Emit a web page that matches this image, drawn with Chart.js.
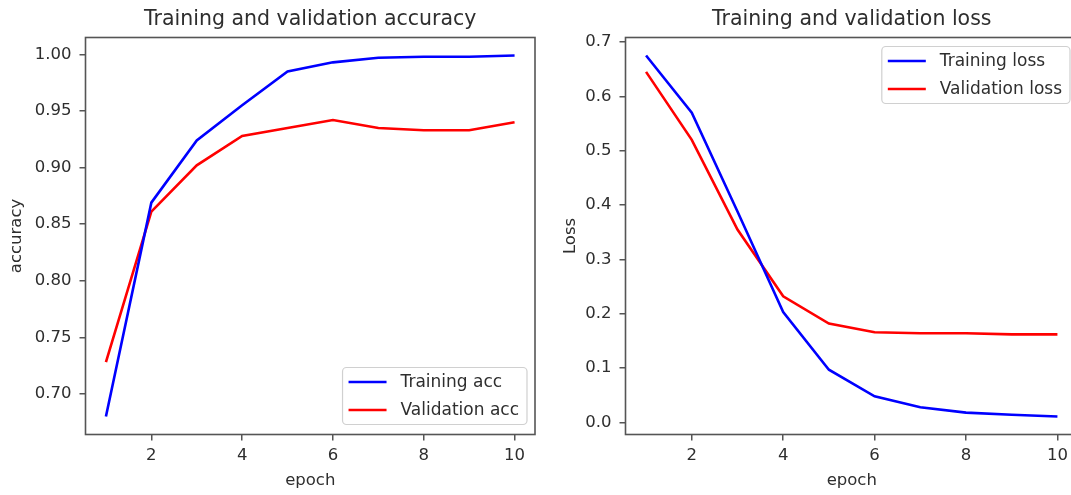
<!DOCTYPE html>
<html>
<head>
<meta charset="utf-8">
<script src="https://cdn.jsdelivr.net/npm/chart.js@4.4.1/dist/chart.umd.min.js"></script>
<style>
  html, body { margin: 0; padding: 0; background: #fff; overflow: hidden; }
  #wrap { position: relative; width: 1071px; height: 495px; overflow: hidden; }
  .pane { position: absolute; top: 0; height: 495px; }
</style>
</head>
<body>
<div id="wrap">
  <div class="pane" style="left:0;width:545px"><canvas id="accChart" width="545" height="495"></canvas></div>
  <div class="pane" style="left:545px;width:540px"><canvas id="lossChart" width="540" height="495"></canvas></div>
</div>
<script>
// Dados
const epochs = [1, 2, 3, 4, 5, 6, 7, 8, 9, 10];
const trainAcc = [0.680, 0.869, 0.924, 0.955, 0.985, 0.993, 0.997, 0.998, 0.998, 0.999];
const valAcc = [0.728, 0.861, 0.902, 0.928, 0.935, 0.942, 0.935, 0.933, 0.933, 0.940];
const trainLoss = [0.675, 0.570, 0.388, 0.203, 0.097, 0.048, 0.028, 0.018, 0.014, 0.011];
const valLoss = [0.645, 0.520, 0.355, 0.232, 0.182, 0.166, 0.164, 0.164, 0.162, 0.162];

const epochTicks = [2, 4, 6, 8, 10];
const accTicks = [0.70, 0.75, 0.80, 0.85, 0.90, 0.95, 1.00];
const lossTicks = [0.0, 0.1, 0.2, 0.3, 0.4, 0.5, 0.6, 0.7];

Chart.defaults.font.family = '"DejaVu Sans", sans-serif';
Chart.defaults.color = '#2e2e2e';

const TEXT = '#2e2e2e';
const SPINE = '#555';
const FS = 16.5;

// margem de 5% como no matplotlib
function limites(valores) {
  const lo = Math.min(...valores), hi = Math.max(...valores);
  const m = (hi - lo) * 0.05;
  return [lo - m, hi + m];
}

const pontos = (ys) => ys.map((y, i) => ({ x: epochs[i], y }));

// moldura em volta da área do gráfico
const moldura = {
  id: 'moldura',
  afterDatasetsDraw(chart) {
    const { ctx, chartArea: a } = chart;
    ctx.save();
    ctx.strokeStyle = SPINE;
    ctx.lineWidth = 1.6;
    ctx.strokeRect(a.left, a.top, a.right - a.left, a.bottom - a.top);
    ctx.restore();
  }
};

// legenda em caixa dentro do gráfico
const legendaCaixa = {
  id: 'legendaCaixa',
  afterDraw(chart, args, opts) {
    const { ctx, chartArea: a } = chart;
    const itens = chart.data.datasets;
    ctx.save();
    ctx.font = `${opts.fontSize}px "DejaVu Sans"`;
    const textoW = Math.max(...itens.map(d => ctx.measureText(d.label).width));
    const pad = 6, linha = 38, gap = 14, passo = 28, borda = 14.5;
    const w = pad + linha + gap + textoW + pad + 2;
    const h = borda * 2 + passo * (itens.length - 1);
    const x = a.right - 8 - w;
    const y = opts.canto === 'topo' ? a.top + 9 : a.bottom - 10 - h;

    ctx.beginPath();
    ctx.roundRect(x, y, w, h, 4);
    ctx.fillStyle = 'rgba(255,255,255,0.8)';
    ctx.fill();
    ctx.strokeStyle = '#d0d0d0';
    ctx.lineWidth = 1.2;
    ctx.stroke();

    itens.forEach((d, i) => {
      const cy = y + borda + i * passo;
      ctx.beginPath();
      ctx.moveTo(x + pad, cy);
      ctx.lineTo(x + pad + linha, cy);
      ctx.strokeStyle = d.borderColor;
      ctx.lineWidth = 2.5;
      ctx.stroke();
      ctx.fillStyle = TEXT;
      ctx.textBaseline = 'middle';
      ctx.textAlign = 'left';
      ctx.fillText(d.label, x + pad + linha + gap, cy + 1);
    });
    ctx.restore();
  }
};

function criarGrafico(id, cfg) {
  const [yMin, yMax] = limites(cfg.series.flat());
  return new Chart(document.getElementById(id), {
    type: 'line',
    data: {
      datasets: [
        { label: cfg.nomes[0], data: pontos(cfg.series[0]), borderColor: '#0000ff', borderWidth: 2.6, pointRadius: 0, tension: 0 },
        { label: cfg.nomes[1], data: pontos(cfg.series[1]), borderColor: '#ff0000', borderWidth: 2.6, pointRadius: 0, tension: 0 }
      ]
    },
    options: {
      responsive: false,
      animation: false,
      events: [],
      devicePixelRatio: 1,
      layout: { padding: { left: 0, right: cfg.padDir, top: 0, bottom: 0 } },
      plugins: {
        legend: { display: false },
        tooltip: { enabled: false },
        title: {
          display: true,
          text: cfg.titulo,
          fullSize: false,
          color: TEXT,
          font: { size: 20.5, weight: 'normal' },
          padding: { top: 7, bottom: 5.9 }
        },
        legendaCaixa: { canto: cfg.canto, fontSize: 17 }
      },
      scales: {
        x: {
          type: 'linear',
          min: 0.55,
          max: 10.45,
          afterBuildTicks: s => { s.ticks = epochTicks.map(v => ({ value: v })); },
          afterFit: s => { s.height = 60.5; },
          grid: { drawOnChartArea: false, drawTicks: true, tickLength: 6, color: SPINE, lineWidth: 1.5 },
          border: { display: false },
          ticks: { font: { size: FS }, padding: 5, maxRotation: 0, autoSkip: false, color: TEXT },
          title: { display: true, text: 'epoch', color: TEXT, font: { size: FS }, padding: { top: 0, bottom: 4 } }
        },
        y: {
          min: yMin,
          max: yMax,
          afterBuildTicks: s => { s.ticks = cfg.yTicks.map(v => ({ value: v })); },
          afterFit: s => { s.width = cfg.larguraY; },
          grid: { drawOnChartArea: false, drawTicks: true, tickLength: 6, color: SPINE, lineWidth: 1.5 },
          border: { display: false },
          ticks: { font: { size: FS }, padding: 8, autoSkip: false, color: TEXT, callback: v => v.toFixed(cfg.casas) },
          title: { display: true, text: cfg.rotuloY, color: TEXT, font: { size: FS }, padding: { top: cfg.padTituloY, bottom: 0 } }
        }
      }
    },
    plugins: [moldura, legendaCaixa]
  });
}

criarGrafico('accChart', {
  titulo: 'Training and validation accuracy',
  nomes: ['Training acc', 'Validation acc'],
  series: [trainAcc, valAcc],
  yTicks: accTicks,
  casas: 2,
  rotuloY: 'accuracy',
  larguraY: 85.5,
  padDir: 10,
  padTituloY: 7,
  canto: 'baixo'
});

criarGrafico('lossChart', {
  titulo: 'Training and validation loss',
  nomes: ['Training loss', 'Validation loss'],
  series: [trainLoss, valLoss],
  yTicks: lossTicks,
  casas: 1,
  rotuloY: 'Loss',
  larguraY: 80.5,
  padDir: 7,
  padTituloY: 16,
  canto: 'topo'
});
</script>
</body>
</html>
